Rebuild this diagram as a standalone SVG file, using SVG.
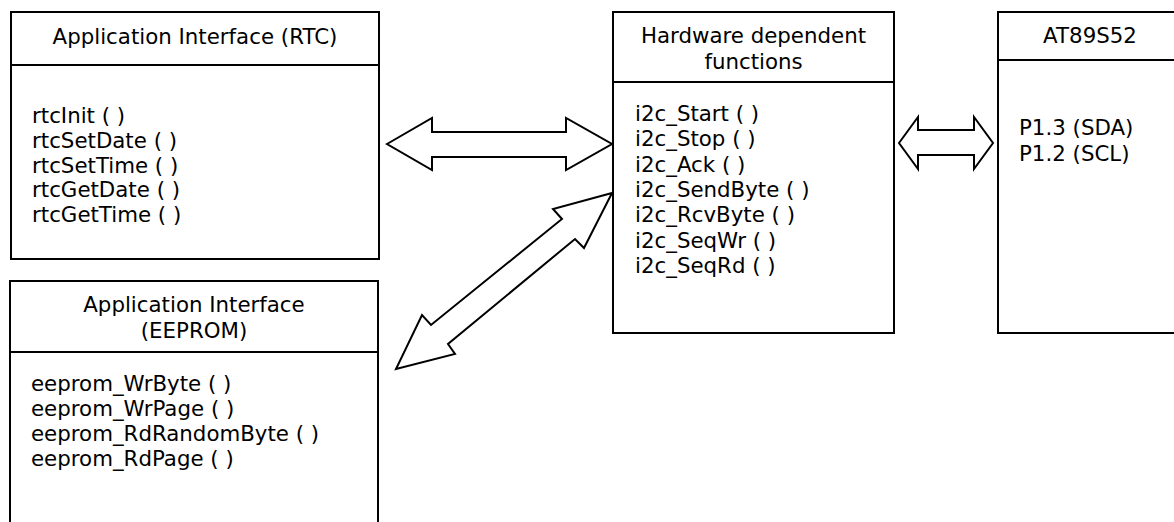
<svg xmlns="http://www.w3.org/2000/svg" width="1174" height="522" viewBox="0 0 1174 522">
<style>
.box{fill:#fff;stroke:#000;stroke-width:2}
.div{stroke:#000;stroke-width:2}
.arrow{fill:#fff;stroke:#000;stroke-width:2;stroke-linejoin:miter}
text{font-family:"DejaVu Sans",Verdana,sans-serif;font-size:21.33px;fill:#000}
.t{text-anchor:middle}
</style>
<rect width="1174" height="522" fill="#fff"/>
<g id="rtc">
<rect class="box" x="11" y="12" width="368" height="247"/>
<line class="div" x1="11" y1="65" x2="379" y2="65"/>
<text class="t" x="195" y="44">Application Interface (RTC)</text>
<text x="32" y="123">rtcInit ( )</text>
<text x="32" y="147.75">rtcSetDate ( )</text>
<text x="32" y="172.5">rtcSetTime ( )</text>
<text x="32" y="197.25">rtcGetDate ( )</text>
<text x="32" y="222">rtcGetTime ( )</text>
</g>
<g id="eeprom">
<rect class="box" x="10" y="281" width="368" height="260"/>
<line class="div" x1="10" y1="352" x2="378" y2="352"/>
<text class="t" x="194" y="311.5">Application Interface</text>
<text class="t" x="194" y="337.5">(EEPROM)</text>
<text x="31" y="391">eeprom_WrByte ( )</text>
<text x="31" y="416">eeprom_WrPage ( )</text>
<text x="31" y="441">eeprom_RdRandomByte ( )</text>
<text x="31" y="466">eeprom_RdPage ( )</text>
</g>
<g id="hardware">
<rect class="box" x="613" y="12" width="281" height="321"/>
<line class="div" x1="613" y1="82" x2="894" y2="82"/>
<text class="t" x="753.5" y="43">Hardware dependent</text>
<text class="t" x="753.5" y="68.5">functions</text>
<text x="635" y="120.5">i2c_Start ( )</text>
<text x="635" y="146">i2c_Stop ( )</text>
<text x="635" y="171.5">i2c_Ack ( )</text>
<text x="635" y="197">i2c_SendByte ( )</text>
<text x="635" y="222">i2c_RcvByte ( )</text>
<text x="635" y="247.5">i2c_SeqWr ( )</text>
<text x="635" y="273">i2c_SeqRd ( )</text>
</g>
<g id="at89s52">
<rect class="box" x="998" y="12" width="200" height="321"/>
<line class="div" x1="998" y1="60" x2="1198" y2="60"/>
<text class="t" x="1090" y="43">AT89S52</text>
<text x="1019" y="135">P1.3 (SDA)</text>
<text x="1019" y="160.5">P1.2 (SCL)</text>
</g>
<g id="connectors">
<polygon class="arrow" points="387,144 432,118 432,132 566,132 566,118 612,144 566,170 566,157 432,157 432,170"/>
<polygon class="arrow" points="899,143 918,117 918,130 974,130 974,117 993,143 974,169 974,155 918,155 918,169"/>
<polygon class="arrow" points="612,193 553,209 562,219 431,325 422,315 396,369 455,354 448,344 575,239 584,248"/>
</g>
</svg>
